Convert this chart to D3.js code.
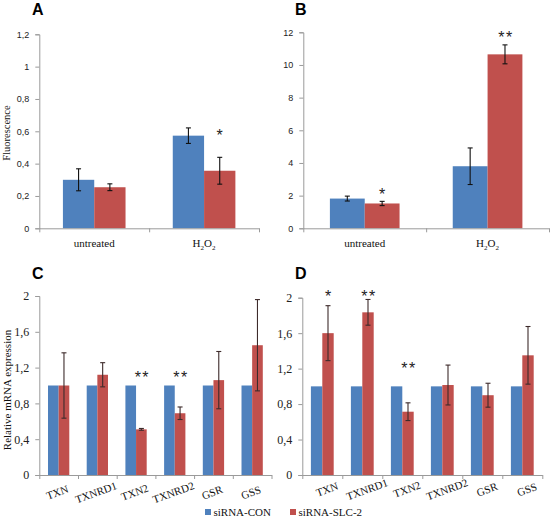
<!DOCTYPE html>
<html><head><meta charset="utf-8">
<script src="https://cdn.jsdelivr.net/npm/d3@7"></script>
<style>body{margin:0;background:#fff}svg{display:block}</style>
</head><body>
<svg id="c" width="550" height="518"></svg>
<script>
// ---------- data ----------
const seriesNames = ["siRNA-CON", "siRNA-SLC-2"];
const treatCats = ["untreated", "H2O2"];
const aTicks = [0, 0.2, 0.4, 0.6, 0.8, 1, 1.2];
const aCon = [0.30, 0.573];
const aConErr = [0.068, 0.048];
const aSlc = [0.254, 0.356];
const aSlcErr = [0.021, 0.083];
const aStars = ["", "*"];
const aStarY = [0, 0.595];

const bTicks = [0, 2, 4, 6, 8, 10, 12];
const bCon = [1.82, 3.8];
const bConErr = [0.15, 1.12];
const bSlc = [1.52, 10.65];
const bSlcErr = [0.13, 0.58];
const bStars = ["*", "**"];
const bStarY = [2.3, 11.9];

const genes = ["TXN", "TXNRD1", "TXN2", "TXNRD2", "GSR", "GSS"];
const cdTicks = [0, 0.4, 0.8, 1.2, 1.6, 2];
const cCon = [1, 1, 1, 1, 1, 1];
const cSlc = [1.0, 1.12, 0.51, 0.69, 1.06, 1.45];
const cSlcErr = [0.365, 0.135, 0.01, 0.07, 0.32, 0.51];
const cStars = ["", "", "**", "**", "", ""];
const cStarY = [0, 0, 1.13, 1.13, 0, 0];

const dCon = [1, 1, 1, 1, 1, 1];
const dSlc = [1.6, 1.835, 0.714, 1.015, 0.9, 1.35];
const dSlcErr = [0.31, 0.145, 0.1, 0.225, 0.135, 0.325];
const dStars = ["*", "**", "**", "", "", ""];
const dStarY = [2.05, 2.05, 1.24, 0, 0, 0];

// ---------- styles ----------
const BLUE = "#4f81bd", RED = "#c0504d", AXIS = "#9a9a9a";
const comma = d3.formatLocale({decimal: ",", thousands: ".", grouping: [3], currency: ["", ""]}).format("~g");

const panels = [
  {letter: "A", lx: 32, ly: 15, cats: treatCats, con: aCon, conErr: aConErr, slc: aSlc, slcErr: aSlcErr,
   stars: aStars, starY: aStarY, ticks: aTicks, x0: 39.3, x1: 259, yb: 228.3, yt: 34.3, frac: 0.57,
   tickFont: "9px 'Liberation Sans', Arial, sans-serif", errColor: "#111", catRot: 0, catY: 247, catDx: 0,
   catFont: 11, ytitle: "Fluorescence", ytx: 6, yty: 133},
  {letter: "B", lx: 295, ly: 15, cats: treatCats, con: bCon, conErr: bConErr, slc: bSlc, slcErr: bSlcErr,
   stars: bStars, starY: bStarY, ticks: bTicks, x0: 303.3, x1: 549, yb: 228.3, yt: 32.3, frac: 0.567,
   tickFont: "9px 'Liberation Sans', Arial, sans-serif", errColor: "#111", catRot: 0, catY: 247, catDx: 0,
   catFont: 11},
  {letter: "C", lx: 32, ly: 279, cats: genes, con: cCon, conErr: null, slc: cSlc, slcErr: cSlcErr,
   stars: cStars, starY: cStarY, ticks: cdTicks, x0: 39.3, x1: 271.5, yb: 475, yt: 296, frac: 0.55,
   tickFont: "12px 'Liberation Serif', 'Times New Roman', serif", errColor: "#3d2b2b", catRot: -20, catY: 496, catDx: 0,
   catFont: 11, ytitle: "Relative mRNA expression", ytx: 7, yty: 390},
  {letter: "D", lx: 295, ly: 279, cats: genes, con: dCon, conErr: null, slc: dSlc, slcErr: dSlcErr,
   stars: dStars, starY: dStarY, ticks: cdTicks, x0: 302.3, x1: 542.3, yb: 475, yt: 297.7, frac: 0.57,
   tickFont: "12px 'Liberation Serif', 'Times New Roman', serif", errColor: "#3d2b2b", catRot: -20, catY: 493, catDx: 6,
   catFont: 11}
];

const svg = d3.select("#c");

panels.forEach(p => {
  const g = svg.append("g");
  const ymax = p.ticks[p.ticks.length - 1];
  const y = d3.scaleLinear().domain([0, ymax]).range([p.yb, p.yt]);
  const xg = d3.scaleBand().domain(p.cats).range([p.x0, p.x1]).padding(0);
  const bw = xg.bandwidth();
  const xs = d3.scaleBand().domain(seriesNames).range([bw * (1 - p.frac) / 2, bw * (1 + p.frac) / 2]).padding(0);

  // panel letter
  g.append("text").attr("x", p.lx).attr("y", p.ly).text(p.letter)
    .attr("font-family", "'Liberation Sans', Arial, sans-serif").attr("font-weight", "bold")
    .attr("font-size", 16).attr("fill", "#000");

  const rows = p.cats.map((c, i) => ({c, i}));
  const series = [
    {name: seriesNames[0], vals: p.con, err: p.conErr, color: BLUE},
    {name: seriesNames[1], vals: p.slc, err: p.slcErr, color: RED}
  ];
  series.forEach(s => {
    g.append("g").selectAll("rect").data(rows).join("rect")
      .attr("x", d => xg(d.c) + xs(s.name))
      .attr("width", xs.bandwidth())
      .attr("y", d => y(s.vals[d.i]))
      .attr("height", d => y(0) - y(s.vals[d.i]))
      .attr("fill", s.color);
  });

  // axes
  const ya = d3.axisLeft(y).tickValues(p.ticks).tickFormat(comma).tickSize(4).tickPadding(6);
  const yg = g.append("g").attr("transform", `translate(${p.x0},0)`).call(ya);
  yg.select(".domain").attr("stroke", AXIS);
  yg.selectAll(".tick line").attr("stroke", AXIS);
  yg.selectAll(".tick text").style("font", p.tickFont).attr("fill", "#222");

  const xb = d3.scaleLinear().domain([0, p.cats.length]).range([p.x0, p.x1]);
  const xa = d3.axisBottom(xb).tickValues(d3.range(p.cats.length + 1)).tickFormat("").tickSize(4).tickSizeOuter(0);
  const xgAxis = g.append("g").attr("transform", `translate(0,${p.yb})`).call(xa);
  xgAxis.select(".domain").attr("stroke", AXIS);
  xgAxis.selectAll(".tick line").attr("stroke", AXIS);

  // error bars
  series.forEach(s => {
    if (!s.err) return;
    const eg = g.append("g").attr("stroke", p.errColor).attr("stroke-width", 1.1).attr("fill", "none");
    rows.forEach(d => {
      const cx = xg(d.c) + xs(s.name) + xs.bandwidth() / 2;
      const v = s.vals[d.i], e = s.err[d.i];
      const yt = y(v + e), ybt = y(v - e);
      eg.append("line").attr("x1", cx).attr("x2", cx).attr("y1", yt).attr("y2", ybt);
      eg.append("line").attr("x1", cx - 2.5).attr("x2", cx + 2.5).attr("y1", yt).attr("y2", yt);
      eg.append("line").attr("x1", cx - 2.5).attr("x2", cx + 2.5).attr("y1", ybt).attr("y2", ybt);
    });
  });

  // stars
  rows.forEach(d => {
    const st = p.stars[d.i];
    if (!st) return;
    const cx = xg(d.c) + xs(seriesNames[1]) + xs.bandwidth() / 2;
    g.append("text").attr("x", cx + (st.length > 1 ? 1 : 0)).attr("y", y(p.starY[d.i]) + 9)
      .attr("text-anchor", "middle").attr("font-family", "'Liberation Sans', Arial, sans-serif")
      .attr("font-size", 16).attr("letter-spacing", st.length > 1 ? 1.5 : 0).attr("fill", "#222").text(st);
  });

  // category labels
  rows.forEach(d => {
    const cx = xg(d.c) + bw / 2 + p.catDx;
    const t = g.append("text").attr("text-anchor", "middle")
      .attr("transform", `translate(${cx},${p.catY}) rotate(${p.catRot})`)
      .attr("font-family", "'Liberation Serif', 'Times New Roman', serif").attr("font-size", p.catFont)
      .attr("fill", "#111");
    if (d.c === "H2O2") {
      t.append("tspan").text("H");
      t.append("tspan").text("2").attr("font-size", 7).attr("dy", 2.5);
      t.append("tspan").text("O").attr("dy", -2.5);
      t.append("tspan").text("2").attr("font-size", 7).attr("dy", 2.5);
    } else {
      t.text(d.c);
    }
  });

  // y title
  if (p.ytitle) {
    g.append("text").attr("transform", `translate(${p.ytx + 4},${p.yty}) rotate(-90)`)
      .attr("text-anchor", "middle").attr("font-family", "'Liberation Serif', 'Times New Roman', serif")
      .attr("font-size", p.letter === "A" ? 10.5 : 11).attr("fill", "#111").text(p.ytitle);
  }
});

// legend
const legend = [
  {name: seriesNames[0], color: BLUE, x: 205},
  {name: seriesNames[1], color: RED, x: 290}
];
const lg = svg.append("g");
legend.forEach(l => {
  lg.append("rect").attr("x", l.x).attr("y", 509).attr("width", 6).attr("height", 6).attr("fill", l.color);
  lg.append("text").attr("x", l.x + 8.5).attr("y", 515.5).attr("font-family", "'Liberation Serif', 'Times New Roman', serif")
    .attr("font-size", 11).attr("fill", "#111").text(l.name);
});
</script>
</body></html>
